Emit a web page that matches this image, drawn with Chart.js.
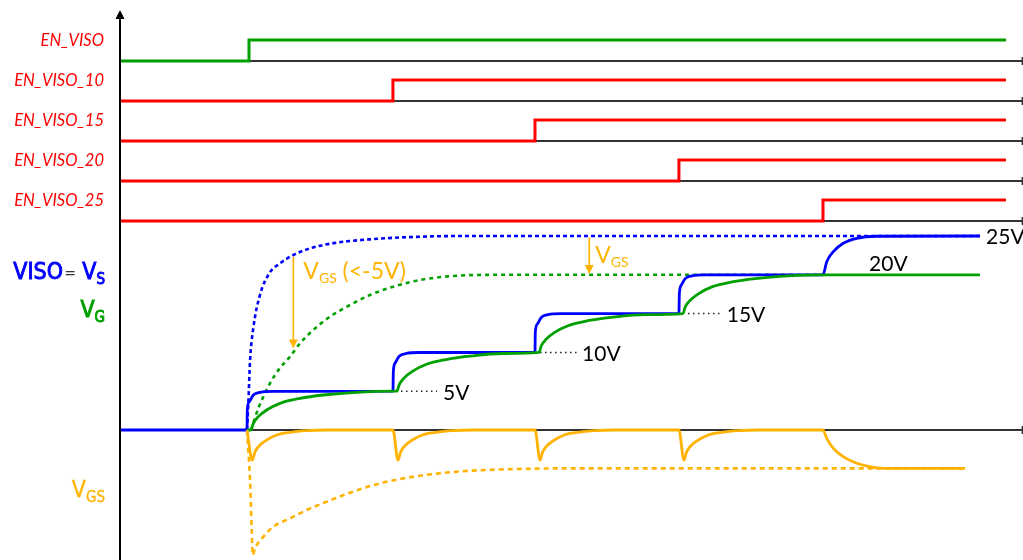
<!DOCTYPE html>
<html>
<head>
<meta charset="utf-8">
<script src="https://cdn.jsdelivr.net/npm/chart.js@4.4.0/dist/chart.umd.min.js"></script>
<style>
  html, body { margin: 0; padding: 0; background: #fff; }
  #wrap { width: 1023px; height: 560px; position: relative; }
</style>
</head>
<body>
<div id="wrap"><canvas id="timing"></canvas></div>
<script>
// ------------------------------------------
// Data (time in arbitrary units, voltages in V)
// ------------------------------------------
var enLabels = ['EN_VISO', 'EN_VISO_10', 'EN_VISO_15', 'EN_VISO_20', 'EN_VISO_25'];
var enRise = [89.9, 190.2, 289.2, 389.5, 489.9];
var enEnd = 617.4;
var timeEnd = 629;

// VISO = VS, stepped start-up
var visoPts = [[0, 0], [88.5, 0], [88.7, 2.58], [90.1, 3.65], [92.9, 4.51], [97.6, 4.86], [106.8, 4.99], [190.2, 5],
  [190.5, 7.58], [191.8, 8.65], [194.6, 9.51], [199.3, 9.86], [208.4, 9.99], [289.2, 10],
  [289.4, 12.58], [290.8, 13.65], [293.6, 14.51], [298.3, 14.86], [307.3, 14.99], [389.5, 15],
  [389.8, 17.58], [391.1, 18.65], [393.9, 19.51], [398.6, 19.86], [407.7, 19.99], [489.9, 20],
  [492.5, 21.69], [497.1, 22.98], [504.0, 24.06], [513.4, 24.70], [527.3, 24.97], [599.3, 25]];

// VG, stepped start-up
var vgPts = [[88.5, 0], [91.3, 0], [92.9, 0.86], [96.4, 1.72], [102.2, 2.58], [111.5, 3.44], [125.4, 4.08], [141.7, 4.51], [164.9, 4.86], [190.5, 5], [193.0, 5],
  [194.6, 5.86], [198.1, 6.72], [204.0, 7.58], [213.2, 8.44], [227.2, 9.08], [243.4, 9.51], [266.7, 9.86], [292.0, 10],
  [293.6, 10.86], [297.1, 11.72], [302.9, 12.58], [312.2, 13.44], [326.1, 14.08], [342.4, 14.51], [365.6, 14.86], [392.3, 15],
  [393.9, 15.86], [397.4, 16.72], [403.3, 17.58], [412.5, 18.44], [426.5, 19.08], [442.7, 19.51], [466.0, 19.86], [489.9, 20], [599.3, 20]];

// VGS, stepped start-up
var vgsPts = [[88.5, 0], [92.2, -3.87], [94.1, -2.80], [97.6, -1.93], [102.2, -1.29], [109.2, -0.64], [118.5, -0.30], [130.1, -0.09], [144.0, 0], [190.2, 0],
  [193.7, -3.87], [195.6, -2.80], [199.1, -1.93], [203.7, -1.29], [210.7, -0.64], [220.0, -0.30], [231.6, -0.09], [245.5, 0], [289.2, 0],
  [292.7, -3.87], [294.6, -2.80], [298.1, -1.93], [302.7, -1.29], [309.6, -0.64], [319.0, -0.30], [330.5, -0.09], [344.5, 0], [389.5, 0],
  [393.0, -3.87], [394.9, -2.80], [398.4, -1.93], [403.0, -1.29], [410.0, -0.64], [419.3, -0.30], [430.9, -0.09], [444.8, 0], [489.9, 0],
  [492.5, -1.07], [497.1, -2.36], [504.0, -3.44], [513.4, -4.29], [525.0, -4.81], [536.6, -4.94], [588.9, -4.94]];

// direct start-up to 25V (dotted)
var visoDirect = [[88.5, 0], [89.4, 3.26], [90.6, 8.85], [92.9, 13.14], [97.6, 17.44], [104.5, 20.32], [111.5, 21.48], [120.8, 22.55],
  [132.4, 23.41], [151.0, 24.14], [174.2, 24.57], [209.1, 24.91], [243.9, 25], [599.3, 25]];
var vgDirect = [[91.3, 0], [96.4, 2.80], [99.9, 4.29], [104.5, 6.02], [111.5, 7.99], [118.5, 9.45], [125.4, 11.17], [134.7, 12.89],
  [146.3, 14.60], [160.3, 16.11], [174.2, 17.40], [190.5, 18.47], [209.1, 19.33], [232.3, 19.85], [267.1, 20], [489.9, 20]];
var vgsDirect = [[88.5, 0], [90.6, -6.44], [91.8, -12.89], [92.5, -16.11], [94.1, -15.24], [99.9, -13.75], [106.8, -12.46], [118.5, -11.38],
  [130.1, -10.31], [144.0, -9.24], [160.3, -8.08], [181.2, -6.87], [204.4, -6.02], [234.6, -5.37], [269.5, -5.06], [315.9, -4.94], [588.9, -4.94]];

// dotted leaders to the level labels: [from, to, level]
var leaders = [[195.8, 220.9, 5], [292.7, 319.2, 10], [395.8, 418.8, 15]];

// ------------------------------------------
// Styles
// ------------------------------------------
var BLUE = '#0000ff', GREEN = '#00a000', RED = '#ff0000', ORANGE = '#ffb300', AXIS = '#333333';
var HIGH = 0.525; // logic high height in row units

function pts(arr) {
    return arr.map(function (p) { return { x: p[0], y: p[1] }; });
}

var datasets = [];

// logic rows
enLabels.forEach(function (name, i) {
    var base = enLabels.length - 1 - i;
    datasets.push({
        data: [{ x: 0, y: base }, { x: enRise[i], y: base }, { x: enRise[i], y: base + HIGH }, { x: enEnd, y: base + HIGH }],
        yAxisID: 'yd', borderColor: i === 0 ? GREEN : RED, borderWidth: 3, tension: 0, order: 1
    });
    datasets.push({
        data: [{ x: 0, y: base }, { x: timeEnd, y: base }],
        yAxisID: 'yd', borderColor: AXIS, borderWidth: 2, tension: 0, order: 9
    });
});

// analog part
datasets.push({ data: [{ x: 0, y: 0 }, { x: timeEnd, y: 0 }], yAxisID: 'y', borderColor: AXIS, borderWidth: 2, tension: 0, order: 9 });
datasets.push({ data: pts(vgsDirect), yAxisID: 'y', borderColor: ORANGE, borderWidth: 2.6, borderDash: [5, 4], cubicInterpolationMode: 'monotone', order: 6 });
datasets.push({ data: pts(visoDirect), yAxisID: 'y', borderColor: BLUE, borderWidth: 2.6, borderDash: [4, 3], cubicInterpolationMode: 'monotone', order: 5 });
datasets.push({ data: pts(vgDirect), yAxisID: 'y', borderColor: GREEN, borderWidth: 2.6, borderDash: [4, 4], cubicInterpolationMode: 'monotone', order: 4 });
datasets.push({ data: pts(visoPts), yAxisID: 'y', borderColor: BLUE, borderWidth: 2.8, cubicInterpolationMode: 'monotone', order: 3 });
datasets.push({ data: pts(vgPts), yAxisID: 'y', borderColor: GREEN, borderWidth: 2.8, cubicInterpolationMode: 'monotone', order: 2 });
datasets.push({ data: pts(vgsPts), yAxisID: 'y', borderColor: ORANGE, borderWidth: 2.8, cubicInterpolationMode: 'monotone', order: 1 });
leaders.forEach(function (l) {
    datasets.push({ data: [{ x: l[0], y: l[2] }, { x: l[1], y: l[2] }], yAxisID: 'y', borderColor: '#222', borderWidth: 1.5, borderDash: [1.5, 3.5], order: 7 });
});

// ------------------------------------------
// Text, axis arrow, annotations
// ------------------------------------------
function subText(ctx, x, y, main, sub, color, mainFont, subFont, drop, align, bold) {
    ctx.font = mainFont;
    var w1 = ctx.measureText(main).width;
    ctx.font = subFont;
    var w2 = ctx.measureText(sub).width;
    var left = align === 'right' ? x - w1 - w2 : x;
    ctx.fillStyle = color;
    ctx.strokeStyle = color;
    ctx.lineWidth = bold || 0;
    ctx.textAlign = 'left';
    ctx.textBaseline = 'alphabetic';
    ctx.font = mainFont;
    ctx.fillText(main, left, y);
    if (bold) ctx.strokeText(main, left, y);
    ctx.font = subFont;
    ctx.fillText(sub, left + w1, y + drop);
    if (bold) ctx.strokeText(sub, left + w1, y + drop);
    return left + w1 + w2;
}

function vArrow(ctx, x, yTop, yTip) {
    ctx.strokeStyle = ORANGE;
    ctx.fillStyle = ORANGE;
    ctx.lineWidth = 1.6;
    ctx.beginPath();
    ctx.moveTo(x, yTop);
    ctx.lineTo(x, yTip - 8);
    ctx.stroke();
    ctx.beginPath();
    ctx.moveTo(x, yTip);
    ctx.lineTo(x - 4.5, yTip - 9);
    ctx.lineTo(x + 4.5, yTip - 9);
    ctx.closePath();
    ctx.fill();
}

var decorPlugin = {
    id: 'decor',
    afterDraw: function (chart) {
        var ctx = chart.ctx;
        var xs = chart.scales.x, ys = chart.scales.y, yd = chart.scales.yd;
        var x0 = xs.getPixelForValue(0);
        var xe = xs.getPixelForValue(timeEnd);
        ctx.save();

        // vertical axis with arrow head
        ctx.strokeStyle = '#000';
        ctx.lineWidth = 2;
        ctx.beginPath();
        ctx.moveTo(x0, 17);
        ctx.lineTo(x0, chart.height);
        ctx.stroke();
        ctx.fillStyle = '#000';
        ctx.beginPath();
        ctx.moveTo(x0, 10);
        ctx.lineTo(x0 - 4.5, 19);
        ctx.lineTo(x0 + 4.5, 19);
        ctx.closePath();
        ctx.fill();

        // end marks of the time lines
        ctx.strokeStyle = AXIS;
        ctx.lineWidth = 2;
        var ends = enLabels.map(function (n, i) { return yd.getPixelForValue(enLabels.length - 1 - i); });
        ends.push(ys.getPixelForValue(0));
        ends.forEach(function (py) {
            ctx.beginPath();
            ctx.moveTo(xe, py - 4);
            ctx.lineTo(xe, py + 4);
            ctx.stroke();
        });

        // logic row labels
        ctx.font = 'italic 16.5px Lato';
        ctx.fillStyle = RED;
        ctx.textAlign = 'right';
        ctx.textBaseline = 'middle';
        enLabels.forEach(function (name, i) {
            var base = enLabels.length - 1 - i;
            ctx.fillText(name, 104, yd.getPixelForValue(base + HIGH) + 1);
        });

        // analog labels on the left
        var big = '23px "DejaVu Sans Condensed"', small = '15px "DejaVu Sans Condensed"';
        ctx.font = big;
        ctx.fillStyle = BLUE;
        ctx.strokeStyle = BLUE;
        ctx.lineWidth = 0.9;
        ctx.textAlign = 'right';
        ctx.textBaseline = 'alphabetic';
        ctx.fillText('VISO', 63, 279);
        ctx.strokeText('VISO', 63, 279);
        ctx.font = '14px "DejaVu Sans"';
        ctx.fillStyle = '#333';
        ctx.textAlign = 'center';
        ctx.fillText('=', 70, 278);
        subText(ctx, 105, 279, 'V', 'S', BLUE, big, small, 5, 'right', 0.9);
        subText(ctx, 105, 317, 'V', 'G', GREEN, big, small, 5, 'right', 0.9);
        subText(ctx, 105, 497, 'V', 'GS', ORANGE, big, small, 5, 'right', 0.3);

        // VGS arrows
        var a1 = xs.getPixelForValue(120.8);
        vArrow(ctx, a1, ys.getPixelForValue(22.3), ys.getPixelForValue(10.5));
        var a2 = xs.getPixelForValue(327.0);
        vArrow(ctx, a2, ys.getPixelForValue(24.8), ys.getPixelForValue(20.1));
        var endX = subText(ctx, a1 + 10, 279, 'V', 'GS', ORANGE, '23px Lato', '14px Lato', 4, 'left');
        ctx.font = '23px Lato';
        ctx.textAlign = 'left';
        ctx.fillText(' (<-5V)', endX, 279);
        subText(ctx, a2 + 6, 263, 'V', 'GS', ORANGE, '23px Lato', '14px Lato', 4, 'left');

        // level labels
        ctx.font = '21px Lato';
        ctx.fillStyle = '#000';
        ctx.textAlign = 'left';
        ctx.textBaseline = 'middle';
        ctx.fillText('5V', xs.getPixelForValue(225.1), ys.getPixelForValue(5) + 2);
        ctx.fillText('10V', xs.getPixelForValue(322.0), ys.getPixelForValue(10) + 2);
        ctx.fillText('15V', xs.getPixelForValue(422.8), ys.getPixelForValue(15) + 2);
        ctx.fillText('20V', xs.getPixelForValue(522.0), ys.getPixelForValue(21.3));
        ctx.fillText('25V', xs.getPixelForValue(603.5), ys.getPixelForValue(24.9));

        ctx.restore();
    }
};

new Chart(document.getElementById('timing').getContext('2d'), {
    type: 'line',
    data: { datasets: datasets },
    options: {
        responsive: true,
        maintainAspectRatio: false,
        animation: false,
        layout: { padding: 0 },
        elements: { point: { radius: 0, hoverRadius: 0 } },
        plugins: { legend: { display: false }, tooltip: { enabled: false } },
        scales: {
            x: { type: 'linear', min: -83.62, max: 629.27, display: false },
            y: { type: 'linear', min: -16.75, max: 55.41, display: false },
            yd: { type: 'linear', min: -8.475, max: 5.525, display: false }
        }
    },
    plugins: [decorPlugin]
});
</script>
</body>
</html>
